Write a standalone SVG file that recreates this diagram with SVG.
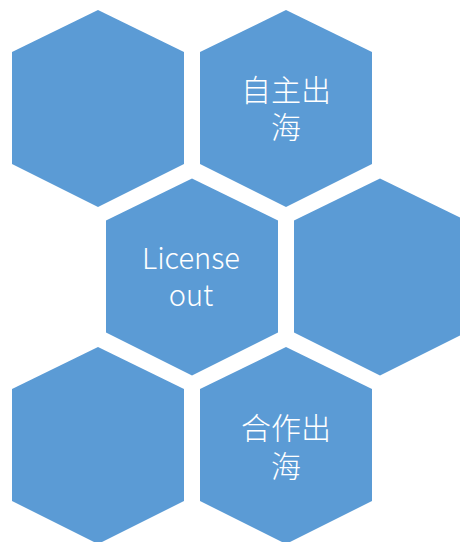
<svg xmlns="http://www.w3.org/2000/svg" width="460" height="542" viewBox="0 0 460 542">
<style>
.hex{fill:#5B9BD5}
.t{fill:#FFFFFF;font-family:"Noto Sans CJK SC","Noto Sans",sans-serif;font-size:29px;font-weight:300;text-anchor:middle}
.c{font-size:30px}
</style>
<defs>
<path id="h" d="M0,-98.5 L86,-56.5 L86,55.5 L0,98.5 L-86,55.5 L-86,-56.5 Z"/>
</defs>
<rect width="460" height="542" fill="#FFFFFF"/>
<g id="hex1"><use href="#h" class="hex" x="98" y="108.5"/></g>
<g id="hex2"><use href="#h" class="hex" x="286" y="108.5"/>
<text class="t c" x="286" y="101">自主出</text><text class="t c" x="286" y="138">海</text></g>
<g id="hex3"><use href="#h" class="hex" x="192" y="277"/>
<text class="t" x="191" y="269">License</text><text class="t" x="191" y="306">out</text></g>
<g id="hex4"><use href="#h" class="hex" x="380" y="277"/></g>
<g id="hex5"><use href="#h" class="hex" x="98" y="445.5"/></g>
<g id="hex6"><use href="#h" class="hex" x="286" y="445.5"/>
<text class="t c" x="286" y="439">合作出</text><text class="t c" x="286" y="477">海</text></g>
<g id="connectors"/>
</svg>
